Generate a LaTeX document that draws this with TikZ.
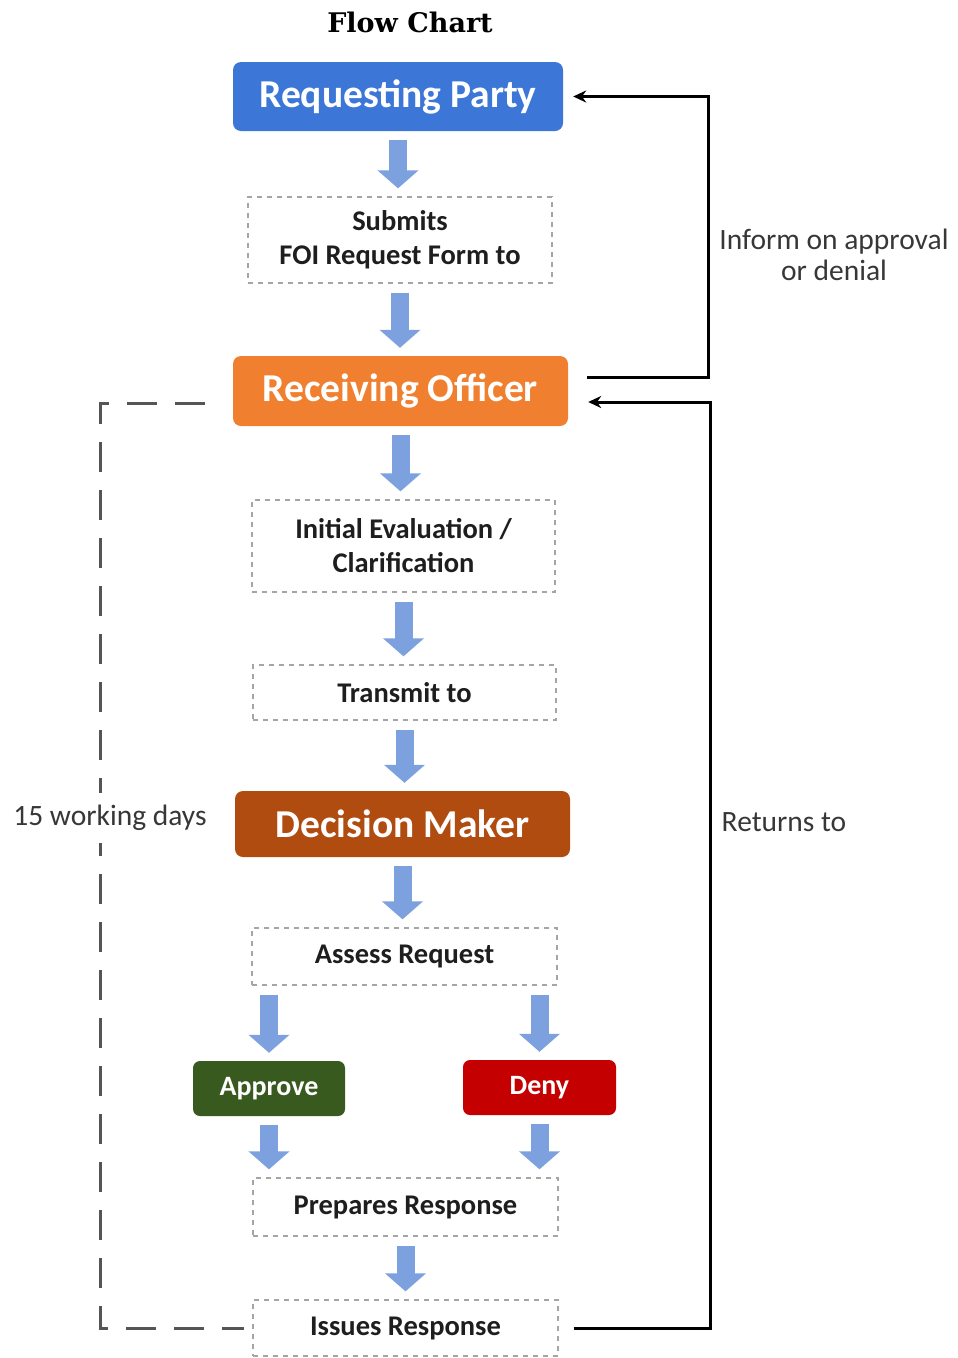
\documentclass[tikz,border=0pt]{standalone}
\usepackage{fontspec}
\setmainfont{Carlito}
\newfontfamily\titlefont{DejaVu Serif}
\usetikzlibrary{arrows.meta,calc}
\definecolor{rpblue}{RGB}{60,118,214}
\definecolor{roorange}{RGB}{240,128,48}
\definecolor{dmbrown}{RGB}{176,76,16}
\definecolor{apgreen}{RGB}{56,90,30}
\definecolor{dnred}{RGB}{196,0,0}
\definecolor{arrblue}{RGB}{125,160,222}
\definecolor{dashgray}{RGB}{165,165,165}
\definecolor{txtdark}{RGB}{30,30,30}
\definecolor{lbl}{RGB}{55,55,55}
\tikzset{
  colbox/.style={rounded corners=8pt, minimum width=#1, text=white, font=\bfseries\fontsize{39.5}{44}\selectfont, inner sep=0pt},
  smallcol/.style={rounded corners=7pt, text=white, font=\bfseries\fontsize{28}{32}\selectfont, inner sep=0pt},
  stepbox/.style={draw=dashgray, line width=1.3pt, dash pattern=on 5pt off 5pt, fill=white, text=txtdark, align=center, font=\bfseries\fontsize{28.5}{34}\selectfont, inner sep=0pt},
  bigarrow/.style={draw=arrblue, line width=18pt, -{Triangle[width=40pt,length=18pt]}, shorten <=9pt, shorten >=8pt},
  fb/.style={draw=black, line width=3pt, -{Stealth[length=13pt,width=12pt]}},
  dashconn/.style={draw=lbl!85, line width=3pt, dash pattern=on 30pt off 18pt},
  lbltext/.style={text=lbl, font=\fontsize{29.5}{31}\selectfont, align=center, inner sep=2pt}
}
\begin{document}
\begin{tikzpicture}[x=1pt,y=-1pt]
\useasboundingbox (0,0) rectangle (958,1358);
\node[font=\titlefont\bfseries\fontsize{27}{30}\selectfont] (title) at (410,22) {Flow Chart};
\node[colbox=330pt, minimum height=69pt, fill=rpblue] (rp) at (398,96.5) {Requesting Party};
\node[stepbox, minimum width=304pt, minimum height=86pt] (sub) at (400,240) {Submits\\FOI Request Form to};
\node[colbox=335pt, minimum height=70pt, fill=roorange] (ro) at (400.5,391) {Receiving Officer};
\node[stepbox, minimum width=303pt, minimum height=92pt] (ie) at (403.5,546) {Initial Evaluation /\\Clarification};
\node[stepbox, minimum width=303pt, minimum height=55pt] (tr) at (404.5,692.5) {Transmit to};
\node[colbox=335pt, minimum height=66pt, fill=dmbrown] (dm) at (402.5,824) {Decision Maker};
\node[stepbox, minimum width=305pt, minimum height=57pt] (ar) at (404.5,956.5) {Assess Request};
\node[smallcol, minimum width=152pt, minimum height=55pt, fill=apgreen] (ap) at (269,1088.5) {Approve};
\node[smallcol, minimum width=153pt, minimum height=55pt, fill=dnred] (dn) at (539.5,1087.5) {Deny};
\node[stepbox, minimum width=305pt, minimum height=58pt] (pr) at (405.5,1207) {Prepares Response};
\node[stepbox, minimum width=305pt, minimum height=56pt] (is) at (405.5,1328) {Issues Response};

\draw[bigarrow] (rp.south) -- (sub.north -| rp.south);
\draw[bigarrow] (sub.south) -- (ro.north -| sub.south);
\draw[bigarrow] (ro.south) -- (ie.north -| ro.south);
\draw[bigarrow] (ie.south) -- (tr.north -| ie.south);
\draw[bigarrow] (tr.south) -- (dm.north -| tr.south);
\draw[bigarrow] (dm.south) -- (ar.north -| dm.south);
\draw[bigarrow] (ar.south -| ap.north) -- (ap.north);
\draw[bigarrow] (ar.south -| dn.north) -- (dn.north);
\draw[bigarrow] (ap.south) -- (pr.north -| ap.south);
\draw[bigarrow] (dn.south) -- (pr.north -| dn.south);
\draw[bigarrow] (pr.south) -- (is.north -| pr.south);

\coordinate (infoA) at ($(ro.east)+(19,-14)$);
\coordinate (infoB) at ($(rp.east)+(10,0)$);
\draw[fb] (infoA) -| (708,96.5) -- (infoB);
\coordinate (retA) at ($(is.east)+(15,0)$);
\coordinate (retB) at ($(ro.east)+(20,11)$);
\draw[fb] (retA) -| (710,402) -- (retB);

\coordinate (dA) at ($(ro.west)+(-28,12)$);
\coordinate (dB) at ($(is.west)+(-8,0)$);
\draw[dashconn] (dA) -| (100,1328) -- (dB);

\node[lbltext, fill=white, inner ysep=12pt] (days) at (110,818) {15 working days};
\node[lbltext] (inform) at (834,255) {Inform on approval\\or denial};
\node[lbltext] (returns) at (784,822) {Returns to};
\end{tikzpicture}
\end{document}
